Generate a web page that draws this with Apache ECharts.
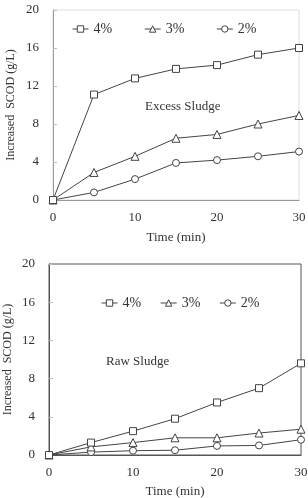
<!DOCTYPE html>
<html>
<head>
<meta charset="utf-8">
<script src="https://cdn.jsdelivr.net/npm/echarts@6/dist/echarts.min.js"></script>
<style>
  html, body { margin: 0; padding: 0; background: #fff; }
  #chart { width: 308px; height: 498px; }
</style>
</head>
<body>
<div id="chart"></div>
<script>
// time points (min)
const times = [0, 5, 10, 15, 20, 25, 30];
const seriesNames = ['4%', '3%', '2%'];
const symbols = ['rect', 'triangle', 'circle'];

// excess sludge (top panel)
const excess4 = [0, 11.1, 12.8, 13.8, 14.2, 15.3, 16.0];
const excess3 = [0, 2.9, 4.6, 6.5, 6.9, 8.0, 8.9];
const excess2 = [0, 0.8, 2.2, 3.9, 4.2, 4.6, 5.1];

// raw sludge (bottom panel)
const raw4 = [0, 1.3, 2.5, 3.8, 5.5, 7.0, 9.6];
const raw3 = [0, 0.85, 1.3, 1.8, 1.8, 2.3, 2.7];
const raw2 = [0, 0.3, 0.45, 0.5, 0.95, 1.0, 1.6];

const font = '"Liberation Serif", "DejaVu Serif", serif';
const ink = '#444';

const pairs = vals => vals.map((v, i) => [times[i], v]);

function makeSeries(vals, gi) {
  return vals.map((v, i) => ({
    name: seriesNames[i],
    type: 'line',
    xAxisIndex: gi,
    yAxisIndex: gi,
    data: pairs(v),
    symbol: symbols[i],
    symbolSize: symbols[i] === 'triangle' ? 8 : 7,
    showAllSymbol: true,
    lineStyle: { color: ink, width: 1 },
    itemStyle: { color: '#fff', borderColor: ink, borderWidth: 1 },
    emphasis: { disabled: true },
    z: 3 - i
  }));
}

function xAxis(gi, gap) {
  return {
    type: 'value', gridIndex: gi, min: 0, max: 30, interval: 10,
    name: 'Time (min)', nameLocation: 'middle', nameGap: gap,
    nameTextStyle: { fontFamily: font, fontSize: 13, color: '#333' },
    axisLine: { lineStyle: { color: gi === 0 ? '#999' : '#555' } },
    axisTick: { show: false },
    splitLine: { show: false },
    axisLabel: { fontFamily: font, fontSize: 13, color: '#333', margin: 11 }
  };
}

function yAxis(gi, gap) {
  return {
    type: 'value', gridIndex: gi, min: 0, max: 20, interval: 4,
    name: 'Increased  SCOD (g/L)', nameLocation: 'middle', nameGap: gap, nameRotate: 90,
    nameMoveOverlap: false,
    nameTextStyle: { fontFamily: font, fontSize: 12, color: '#333' },
    axisLine: { lineStyle: { color: gi === 0 ? '#999' : '#555' } },
    axisTick: { show: true, inside: true, length: 4, lineStyle: { color: '#bbb' } },
    splitLine: { show: false },
    axisLabel: { fontFamily: font, fontSize: 13, color: '#333', margin: 14 }
  };
}

const chart = echarts.init(document.getElementById('chart'), null, { renderer: 'canvas' });

function legend(left, top, gap, size) {
  return {
    left: left, top: top,
    data: seriesNames,
    itemWidth: 16,
    itemHeight: 8,
    itemGap: gap,
    lineStyle: { width: 1, color: ink },
    itemStyle: { borderWidth: 1, borderColor: ink, color: '#fff' },
    textStyle: { fontFamily: font, fontSize: size, color: '#333' },
    selectedMode: false
  };
}

chart.setOption({
  animation: false,
  backgroundColor: '#fff',
  grid: [
    { left: 53, top: 10, right: 9, height: 190, show: true, borderColor: '#ddd', borderWidth: 1,
      outerBoundsMode: 'none', containLabel: false },
    { left: 49, top: 264, right: 7, height: 191, show: true, borderColor: '#555', borderWidth: 1,
      outerBoundsMode: 'none', containLabel: false }
  ],
  legend: [
    legend(67, 17, 32, 14),
    legend(96, 291, 19, 14)
  ],
  xAxis: [xAxis(0, 31), xAxis(1, 30)],
  yAxis: [yAxis(0, 36), yAxis(1, 35)],
  graphic: [
    { type: 'text', left: 145, top: 100,
      style: { text: 'Excess Sludge', font: '13px ' + font, fill: '#333' } },
    { type: 'text', left: 106, top: 355,
      style: { text: 'Raw Sludge', font: '13px ' + font, fill: '#333' } },
    // axis titles placed by hand so they sit as in the source figure
  ],
  series: [].concat(
    makeSeries([excess4, excess3, excess2], 0),
    makeSeries([raw4, raw3, raw2], 1)
  )
});
</script>
</body>
</html>
